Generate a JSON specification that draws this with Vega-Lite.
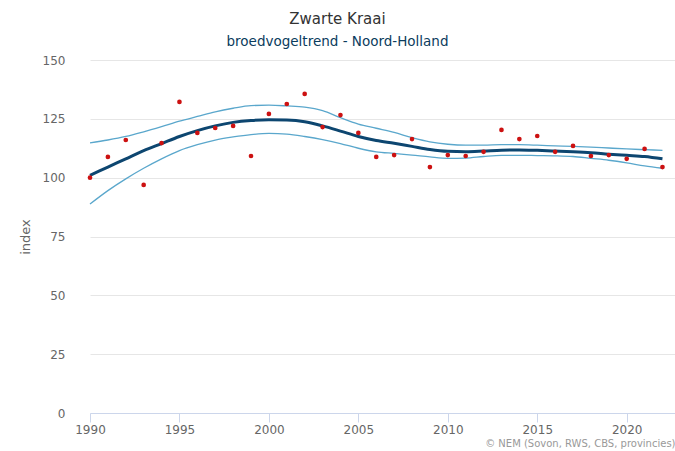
{
  "$schema": "https://vega.github.io/schema/vega-lite/v6.json",
  "width": 585,
  "height": 353,
  "autosize": {"type": "none"},
  "padding": {"left": 90, "top": 60, "right": 0, "bottom": 38},
  "background": "white",
  "config": {"view": {"stroke": null}, "font": "DejaVu Sans"},
  "title": {
    "text": "Zwarte Kraai",
    "subtitle": "broedvogeltrend - Noord-Holland",
    "anchor": "middle",
    "dx": -45,
    "offset": 6,
    "fontSize": 15,
    "fontWeight": "normal",
    "color": "#333333",
    "subtitleFontSize": 13.5,
    "subtitleColor": "#0b3c5d",
    "subtitlePadding": 8
  },
  "data": {"values": [
    {"year": 1990, "index": 100.0, "trend": 101.0, "upper": 114.8, "lower": 88.8},
    {"year": 1991, "index": 108.8, "trend": 104.5, "upper": 116.0, "lower": 94.5},
    {"year": 1992, "index": 116.0, "trend": 108.0, "upper": 117.5, "lower": 99.5},
    {"year": 1993, "index": 96.9, "trend": 111.5, "upper": 119.5, "lower": 104.0},
    {"year": 1994, "index": 114.7, "trend": 114.5, "upper": 121.7, "lower": 108.0},
    {"year": 1995, "index": 132.2, "trend": 117.5, "upper": 124.0, "lower": 111.5},
    {"year": 1996, "index": 119.0, "trend": 120.0, "upper": 126.0, "lower": 114.0},
    {"year": 1997, "index": 121.1, "trend": 122.0, "upper": 128.0, "lower": 116.0},
    {"year": 1998, "index": 122.0, "trend": 123.5, "upper": 129.5, "lower": 117.3},
    {"year": 1999, "index": 109.2, "trend": 124.3, "upper": 130.6, "lower": 118.3},
    {"year": 2000, "index": 127.1, "trend": 124.6, "upper": 130.8, "lower": 118.8},
    {"year": 2001, "index": 131.3, "trend": 124.5, "upper": 130.5, "lower": 118.5},
    {"year": 2002, "index": 135.6, "trend": 123.8, "upper": 130.0, "lower": 117.5},
    {"year": 2003, "index": 121.5, "trend": 122.0, "upper": 128.5, "lower": 116.2},
    {"year": 2004, "index": 126.6, "trend": 119.8, "upper": 125.5, "lower": 114.5},
    {"year": 2005, "index": 119.0, "trend": 117.5, "upper": 122.8, "lower": 112.5},
    {"year": 2006, "index": 108.8, "trend": 115.8, "upper": 121.0, "lower": 111.0},
    {"year": 2007, "index": 109.6, "trend": 114.6, "upper": 119.2, "lower": 110.3},
    {"year": 2008, "index": 116.4, "trend": 113.3, "upper": 117.0, "lower": 109.6},
    {"year": 2009, "index": 104.5, "trend": 112.0, "upper": 115.2, "lower": 108.8},
    {"year": 2010, "index": 109.6, "trend": 111.2, "upper": 114.2, "lower": 108.2},
    {"year": 2011, "index": 109.2, "trend": 111.0, "upper": 113.8, "lower": 108.3},
    {"year": 2012, "index": 111.0, "trend": 111.3, "upper": 113.8, "lower": 109.0},
    {"year": 2013, "index": 120.3, "trend": 111.7, "upper": 114.0, "lower": 109.5},
    {"year": 2014, "index": 116.4, "trend": 111.8, "upper": 114.0, "lower": 109.5},
    {"year": 2015, "index": 117.7, "trend": 111.6, "upper": 113.8, "lower": 109.4},
    {"year": 2016, "index": 111.0, "trend": 111.3, "upper": 113.5, "lower": 109.3},
    {"year": 2017, "index": 113.5, "trend": 111.0, "upper": 113.3, "lower": 109.0},
    {"year": 2018, "index": 109.2, "trend": 110.6, "upper": 113.0, "lower": 108.2},
    {"year": 2019, "index": 109.6, "trend": 110.0, "upper": 112.6, "lower": 107.4},
    {"year": 2020, "index": 108.0, "trend": 109.5, "upper": 112.2, "lower": 106.3},
    {"year": 2021, "index": 112.2, "trend": 109.0, "upper": 111.9, "lower": 105.0},
    {"year": 2022, "index": 104.5, "trend": 108.0, "upper": 111.6, "lower": 104.0}
  ]},
  "encoding": {
    "x": {
      "field": "year",
      "type": "quantitative",
      "scale": {"domain": [1990, 2022.7], "nice": false, "zero": false},
      "axis": {
        "values": [1990, 1995, 2000, 2005, 2010, 2015, 2020],
        "format": "d",
        "grid": false,
        "labelFlush": false,
        "domainColor": "#ccd6eb",
        "tickColor": "#ccd6eb",
        "tickSize": 9,
        "labelPadding": 2,
        "labelFontSize": 12,
        "labelColor": "#666666",
        "title": "© NEM (Sovon, RWS, CBS, provincies)",
        "titleAnchor": "end",
        "titleAlign": "right",
        "titleFontSize": 10,
        "titleFontWeight": "normal",
        "titleColor": "#999999",
        "titlePadding": 3
      }
    }
  },
  "layer": [
    {
      "mark": {"type": "line", "color": "#5aa7cc", "strokeWidth": 1.3, "interpolate": "monotone"},
      "encoding": {
        "y": {
          "field": "upper",
          "type": "quantitative",
          "scale": {"domain": [0, 150], "nice": false},
          "axis": {
            "values": [0, 25, 50, 75, 100, 125, 150],
            "grid": true,
            "gridColor": "#e6e6e6",
            "domain": false,
            "ticks": false,
            "labelPadding": 25,
            "labelFontSize": 12,
            "labelColor": "#666666",
            "title": "index",
            "titleFontSize": 13,
            "titleFontWeight": "normal",
            "titleColor": "#666666",
            "titlePadding": 10
          }
        }
      }
    },
    {
      "mark": {"type": "line", "color": "#5aa7cc", "strokeWidth": 1.3, "interpolate": "monotone"},
      "encoding": {"y": {"field": "lower", "type": "quantitative"}}
    },
    {
      "mark": {"type": "line", "color": "#0d4670", "strokeWidth": 3, "interpolate": "monotone"},
      "encoding": {"y": {"field": "trend", "type": "quantitative"}}
    },
    {
      "mark": {"type": "circle", "color": "#cc1111", "size": 22, "opacity": 1},
      "encoding": {"y": {"field": "index", "type": "quantitative"}}
    }
  ]
}
